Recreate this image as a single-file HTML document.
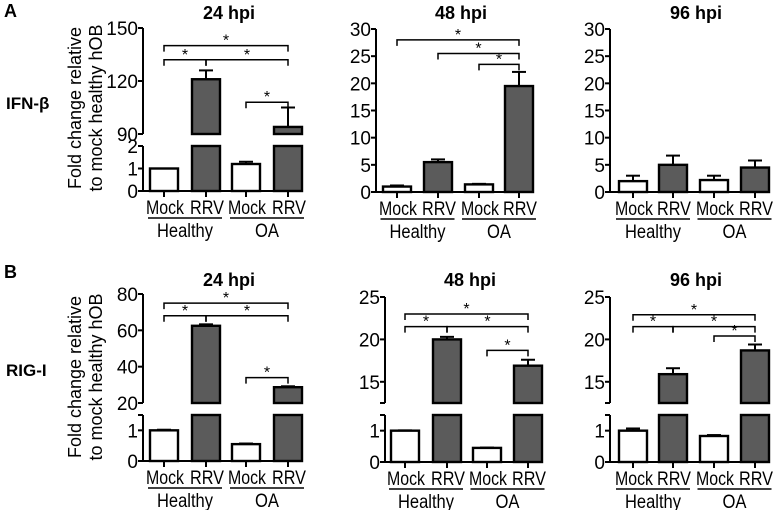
<!DOCTYPE html>
<html><head><meta charset="utf-8"><style>
html,body{margin:0;padding:0;background:#fff;}
svg{display:block;font-family:"Liberation Sans",Arial,sans-serif;}
</style></head><body>
<svg id="fig" width="778" height="510" viewBox="0 0 778 510"></svg>
<script>
// ---- data ----
const categories=['Mock','RRV','Mock','RRV'];
const groupNames=['Healthy','OA'];
const ifnb24=[1.0,121,1.2,94];
const ifnb24Err=[0,5,0.1,11];
const ifnb48=[1.0,5.5,1.4,19.5];
const ifnb48Err=[0.2,0.5,0.1,2.6];
const ifnb96=[2.0,5.0,2.2,4.5];
const ifnb96Err=[1.0,1.7,0.8,1.3];
const rig24=[1.0,62.5,0.55,28.7];
const rig24Err=[0.02,0.8,0.02,0.5];
const rig48=[1.0,20.0,0.45,16.9];
const rig48Err=[0.01,0.3,0.01,0.7];
const rig96=[1.0,15.9,0.83,18.7];
const rig96Err=[0.07,0.7,0.03,0.7];
const ticksA24Low=[0,1,2], ticksA24High=[90,120,150];
const ticks30=[0,5,10,15,20,25,30];
const ticksB24Low=[0,1], ticksB24High=[20,40,60,80];
const ticksBLow=[0,1], ticksBHigh=[15,20,25];
// brackets: [fromBar,toBar,value-level]
const sigA24=[[0,3,140],[0,1,132],[1,3,132],[2,3,108]];
const sigA48=[[0,3,28],[1,3,25.5],[2,3,23.5]];
const sigB24=[[0,3,75],[0,1,68],[1,3,68],[2,3,34]];
const sigB48=[[0,3,23],[0,1,21.5],[1,3,21.5],[2,3,18.7]];
const sigB96=[[0,3,22.9],[0,1,21.5],[1,3,21.5],[2,3,20.4]];

const NS='http://www.w3.org/2000/svg';
const svg=document.getElementById('fig');
function mk(tag,attrs,parent){const e=document.createElementNS(NS,tag);for(const k in attrs)e.setAttribute(k,attrs[k]);(parent||svg).appendChild(e);return e;}
function txt(x,y,s,attrs,parent){const t=mk('text',Object.assign({x:x,y:y},attrs||{}),parent);t.textContent=s;return t;}
const catLen={Mock:38,RRV:34}, grpLen={Healthy:56,OA:24};

function drawPanel(p){
  const g=mk('g',{});
  
  
  const segs=p.segs;
  function yOf(v){for(const s of segs){if(v<=s.hi+1e-9&&v>=s.lo-1e-9)return s.y0-(v-s.lo)/(s.hi-s.lo)*(s.y0-s.y1);}
    const s=segs[segs.length-1];return s.y0-(v-s.lo)/(s.hi-s.lo)*(s.y0-s.y1);}
  const ax=p.ax, bw=28;
  const centers=p.bars;
  const last=centers[3]+bw/2+1;
  const tt=txt((ax+last)/2+6,p.titleY,p.title,{'font-size':18,'font-weight':'bold','text-anchor':'middle'},g);
  
  
  p.vals.forEach((v,i)=>{
    const cx=centers[i], fill=i%2?'#5b5b5b':'#fff';
    segs.forEach(s=>{
      if(v<=s.lo)return;
      const top=Math.min(v,s.hi);
      const yb=s.y0, yt=yOf(top);
      const r=mk('rect',{x:cx-bw/2,y:yt,width:bw,height:Math.max(0,yb-yt),fill:fill,stroke:'#000','stroke-width':2.4},g);
      
      
    });
    const e=p.errs[i];
    if(e>0){
      const y1=yOf(v), y2=yOf(v+e);
      mk('line',{x1:cx,y1:y1,x2:cx,y2:y2,stroke:'#000','stroke-width':2},g);
      const c=mk('line',{x1:cx-7,y1:y2,x2:cx+7,y2:y2,stroke:'#000','stroke-width':2},g);
      
      
    }
  });
  segs.forEach((s,si)=>{
    const a=mk('line',{x1:ax,y1:s.y0,x2:ax,y2:s.y1,stroke:'#000','stroke-width':2},g);
    
    
    [s.y0,s.y1].forEach(y=>mk('line',{x1:ax-5,y1:y,x2:ax,y2:y,stroke:'#000','stroke-width':2},g));
    s.ticks.forEach(t=>{
      const y=yOf(t);
      mk('line',{x1:ax-5,y1:y,x2:ax,y2:y,stroke:'#000','stroke-width':2},g);
      const l=txt(ax-5,y+7,String(t),{'font-size':19,'text-anchor':'end'},g);
      
      
    });
  });
  const base=segs[0].y0;
  const xa=mk('line',{x1:ax,y1:base,x2:last,y2:base,stroke:'#000','stroke-width':2},g);
  
  
  centers.forEach((cx,i)=>{
    mk('line',{x1:cx,y1:base,x2:cx,y2:base+6,stroke:'#000','stroke-width':2},g);
    const l=txt(cx+1,base+23,categories[i],{'font-size':19,'text-anchor':'middle',textLength:catLen[categories[i]],lengthAdjust:'spacingAndGlyphs'},g);
    
    
  });
  [0,1].forEach(k=>{
    const gc=(centers[2*k]+centers[2*k+1])/2;
    mk('line',{x1:gc-37,y1:base+27,x2:gc+37,y2:base+27,stroke:'#000','stroke-width':1.5},g);
    const l=txt(gc,base+46,groupNames[k],{'font-size':19,'text-anchor':'middle',textLength:grpLen[groupNames[k]],lengthAdjust:'spacingAndGlyphs'},g);
    
    
  });
  (p.sig||[]).forEach(b=>{
    const x1=centers[b[0]], x2=centers[b[1]], y=yOf(b[2]);
    const pth=mk('path',{d:`M${x1} ${y+6}V${y}H${x2}V${y+6}`,fill:'none',stroke:'#000','stroke-width':1.5},g);
    
    
    const st=txt((x1+x2)/2,y,'*',{'font-size':16,'text-anchor':'middle'},g);
    
    
  });
}

const barsL=[164,206,246,288], barsM=[397,438,479,519], barsM2=[405,447,487,528], barsR=[633,673,714,755];

drawPanel({name:'ifnb-24hpi',title:'24 hpi',titleY:19,ax:143,bars:barsL,vals:ifnb24,errs:ifnb24Err,sig:sigA24,
  segs:[{lo:0,hi:2,y0:191,y1:146,ticks:ticksA24Low},{lo:90,hi:150,y0:134,y1:28,ticks:ticksA24High}]});
drawPanel({name:'ifnb-48hpi',title:'48 hpi',titleY:19,ax:376,bars:barsM,vals:ifnb48,errs:ifnb48Err,sig:sigA48,
  segs:[{lo:0,hi:30,y0:192,y1:29,ticks:ticks30}]});
drawPanel({name:'ifnb-96hpi',title:'96 hpi',titleY:19,ax:610,bars:barsR,vals:ifnb96,errs:ifnb96Err,sig:[],
  segs:[{lo:0,hi:30,y0:192,y1:29,ticks:ticks30}]});
drawPanel({name:'rigi-24hpi',title:'24 hpi',titleY:286,ax:143,bars:barsL,vals:rig24,errs:rig24Err,sig:sigB24,
  segs:[{lo:0,hi:1.5,y0:461,y1:415,ticks:ticksB24Low},{lo:20,hi:80,y0:403,y1:294,ticks:ticksB24High}]});
drawPanel({name:'rigi-48hpi',title:'48 hpi',titleY:286,ax:385,bars:barsM2,vals:rig48,errs:rig48Err,sig:sigB48,
  segs:[{lo:0,hi:1.5,y0:462,y1:415,ticks:ticksBLow},{lo:12.5,hi:25,y0:403,y1:297,ticks:ticksBHigh}]});
drawPanel({name:'rigi-96hpi',title:'96 hpi',titleY:286,ax:610,bars:barsR,vals:rig96,errs:rig96Err,sig:sigB96,
  segs:[{lo:0,hi:1.5,y0:462,y1:415,ticks:ticksBLow},{lo:12.5,hi:25,y0:403,y1:297,ticks:ticksBHigh}]});

function label(x,y,s,attrs,name){const t=txt(x,y,s,attrs);return t;}
label(4,17,'A',{'font-size':18,'font-weight':'bold'},'panel-letter-a');
label(4,278,'B',{'font-size':18,'font-weight':'bold'},'panel-letter-b');
label(6,109,'IFN-β',{'font-size':17,'font-weight':'bold'},'row-label-ifnb');
label(6,376,'RIG-I',{'font-size':17,'font-weight':'bold'},'row-label-rigi');
[[108,'y-axis-title-a'],[377,'y-axis-title-b']].forEach(([cy,nm])=>{
  const t=mk('text',{transform:`translate(81,${cy}) rotate(-90)`,'font-size':18,'text-anchor':'middle'});
  
  
  const a=mk('tspan',{x:0,y:0},t);a.textContent='Fold change relative';
  const b=mk('tspan',{x:0,y:21},t);b.textContent='to mock healthy hOB';
});
</script>
</body></html>
